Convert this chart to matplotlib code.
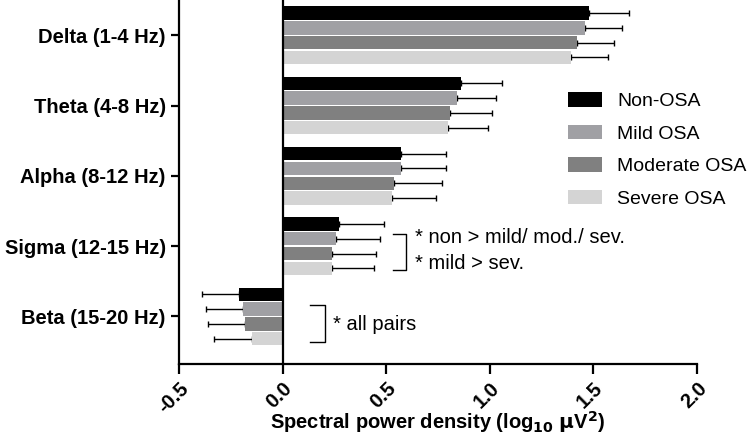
import numpy as np
import matplotlib
matplotlib.use("Agg")
import matplotlib.pyplot as plt
from matplotlib.patches import Patch

plt.rcParams['font.family'] = ['Liberation Sans', 'DejaVu Sans']

bands = ["Delta (1-4 Hz)", "Theta (4-8 Hz)", "Alpha (8-12 Hz)",
         "Sigma (12-15 Hz)", "Beta (15-20 Hz)"]
groups = ["Non-OSA", "Mild OSA", "Moderate OSA", "Severe OSA"]
colors = ["#000000", "#a0a0a4", "#808080", "#d4d4d4"]

non_mean = [1.48, 0.86, 0.57, 0.27, -0.21]
non_sd = [0.19, 0.20, 0.22, 0.22, 0.18]
mild_mean = [1.46, 0.84, 0.57, 0.26, -0.19]
mild_sd = [0.18, 0.19, 0.22, 0.21, 0.18]
mod_mean = [1.42, 0.81, 0.54, 0.24, -0.18]
mod_sd = [0.18, 0.20, 0.23, 0.21, 0.18]
sev_mean = [1.39, 0.80, 0.53, 0.24, -0.15]
sev_sd = [0.18, 0.19, 0.21, 0.20, 0.18]

means = [non_mean, mild_mean, mod_mean, sev_mean]
sds = [non_sd, mild_sd, mod_sd, sev_sd]

fig = plt.figure(figsize=(7.5, 4.46), dpi=100)
ax = fig.add_axes([0.2387, 0.1848, 0.6906, 0.815])

y = np.arange(len(bands))
step = 0.21
h = 0.19
for i, (m, s, c, g) in enumerate(zip(means, sds, colors, groups)):
    m = np.array(m)
    s = np.array(s)
    yy = y + (i - 1.5) * step
    ax.barh(yy, m, height=h, color=c, label=g, zorder=2)
    lo = np.where(m < 0, s, 0)
    hi = np.where(m > 0, s, 0)
    ax.errorbar(m, yy, xerr=[lo, hi], fmt='none', ecolor='black',
                elinewidth=1.0, capsize=2.5, capthick=1.0, zorder=1)

ax.axvline(0, color='black', lw=1.6, zorder=3)

ax.set_xlim(-0.5, 2.0)
ax.set_ylim(4.67, -0.5)
ax.set_xticks([-0.5, 0.0, 0.5, 1.0, 1.5, 2.0])
ax.set_xticklabels(["-0.5", "0.0", "0.5", "1.0", "1.5", "2.0"],
                   rotation=45, ha='right', rotation_mode='anchor',
                   fontsize=14.5, fontweight='bold')
ax.set_yticks(y)
ax.set_yticklabels(bands, fontsize=14.5, fontweight='bold')

for sp in ['top', 'right']:
    ax.spines[sp].set_visible(False)
for sp in ['left', 'bottom']:
    ax.spines[sp].set_linewidth(1.6)
ax.tick_params(axis='both', width=1.6, length=6)
ax.tick_params(axis='x', length=7, pad=4)

ax.set_xlabel(r"Spectral power density (log$_{\mathbf{10}}$ $\mathbf{\mu}$V$^{\mathbf{2}}$)",
              fontsize=14.5, fontweight='bold')
ax.xaxis.set_label_coords(0.5, -0.16)
ax.xaxis.label.set_va('center')

# significance brackets
ax.plot([0.535, 0.595, 0.595, 0.535], [2.82, 2.82, 3.345, 3.345],
        color='black', lw=1.0)
ax.text(0.64, 2.88, "* non > mild/ mod./ sev.", fontsize=14.5, va='center')
ax.text(0.64, 3.24, "* mild > sev.", fontsize=14.5, va='center')
ax.plot([0.133, 0.205, 0.205, 0.133], [3.84, 3.84, 4.36, 4.36],
        color='black', lw=1.0)
ax.text(0.245, 4.12, "* all pairs", fontsize=14.5, va='center')

handles = [Patch(facecolor=c, edgecolor='none', label=g)
           for c, g in zip(colors, groups)]
fig.legend(handles=handles, loc='upper left',
           bbox_to_anchor=(0.757, 0.793), frameon=False, fontsize=14,
           handlelength=1.75, handleheight=0.75, handletextpad=0.8,
           labelspacing=0.75, borderpad=0, borderaxespad=0)

fig.savefig("out.png", dpi=100)
